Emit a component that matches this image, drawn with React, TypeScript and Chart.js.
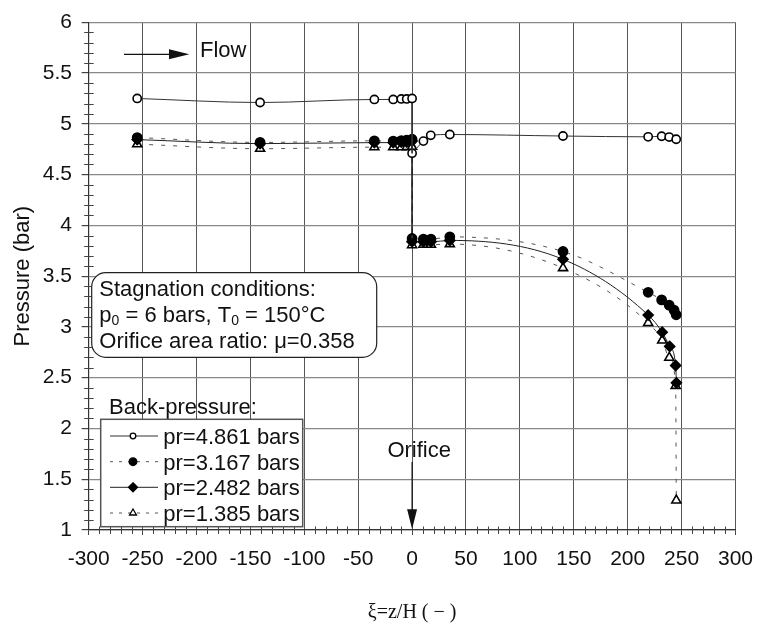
import React, { useEffect, useRef } from 'react';
import { Chart, registerables } from 'chart.js';

Chart.register(...registerables);

// ---- data ----
const xPr4861 = [-255, -141, -35, -17.5, -10, -5, 0, 0, 10.5, 17.3, 35, 140, 219, 231.5, 238.5, 245];
const yPr4861 = [5.25, 5.21, 5.24, 5.24, 5.245, 5.245, 5.25, 4.71, 4.83, 4.887, 4.895, 4.88, 4.872, 4.878, 4.87, 4.848];

const xPr3167 = [-255, -141, -35, -17.5, -10, -5, 0, 0, 10.5, 17.5, 35, 140, 219, 231.5, 238.5, 243, 245];
const yPr3167 = [4.865, 4.817, 4.833, 4.83, 4.835, 4.84, 4.848, 3.871, 3.865, 3.865, 3.887, 3.743, 3.341, 3.266, 3.214, 3.166, 3.12];

const xPr2482 = [-255, -141, -35, -17.5, -10, -5, 0, 0, 10.5, 17.5, 35, 140, 219, 232, 239, 244.5, 245.2];
const yPr2482 = [4.845, 4.805, 4.815, 4.815, 4.82, 4.82, 4.83, 3.84, 3.838, 3.838, 3.852, 3.666, 3.117, 2.948, 2.808, 2.62, 2.45];

const xPr1385 = [-255, -141, -35, -17.5, -10, -5, 0, 0, 10.5, 17.5, 35, 140, 219, 232, 238.6, 244.5, 245.1];
const yPr1385 = [4.8, 4.755, 4.77, 4.77, 4.77, 4.772, 4.775, 3.806, 3.81, 3.81, 3.816, 3.58, 3.04, 2.867, 2.698, 2.42, 1.292];

const legendLabels = ['pr=4.861 bars', 'pr=3.167 bars', 'pr=2.482 bars', 'pr=1.385 bars'];
const xTickStep = 50;
const yTickStep = 0.5;

const FONT = '"Liberation Sans", Arial, Helvetica, sans-serif';
const SERIF = '"Liberation Serif", "Times New Roman", serif';

type Style = {
  borderColor: string;
  borderDash: number[];
  pointStyle: string;
  pointRadius: number;
  fill: string;
};

const styles: Style[] = [
  { borderColor: '#333', borderDash: [], pointStyle: 'circle', pointRadius: 4.1, fill: '#fff' },
  { borderColor: '#555', borderDash: [4, 8], pointStyle: 'circle', pointRadius: 4.6, fill: '#000' },
  { borderColor: '#222', borderDash: [], pointStyle: 'rectRot', pointRadius: 5, fill: '#000' },
  { borderColor: '#555', borderDash: [4, 8], pointStyle: 'triangle', pointRadius: 5.2, fill: '#fff' },
];

function buildDatasets(xs: number[], ys: number[], st: Style) {
  const pts = xs.map((x, i) => ({ x, y: ys[i] }));
  let j = 0;
  for (let i = 0; i < xs.length - 1; i++) if (xs[i] === xs[i + 1]) { j = i; break; }
  const up = pts.slice(0, j + 1);
  const jump = pts.slice(j, j + 2);
  const down = pts.slice(j + 1);
  const common = {
    borderColor: st.borderColor,
    borderWidth: 1,
    borderDash: st.borderDash,
    pointStyle: st.pointStyle as any,
    pointBackgroundColor: st.fill,
    pointBorderColor: '#000',
    pointBorderWidth: 1.6,
    showLine: true,
    cubicInterpolationMode: 'monotone' as const,
  };
  return [
    { ...common, data: up, pointRadius: st.pointRadius },
    { ...common, data: jump, pointRadius: 0, cubicInterpolationMode: 'default' as const, tension: 0 },
    { ...common, data: down, pointRadius: st.pointRadius },
  ];
}

function drawMarker(ctx: CanvasRenderingContext2D, kind: string, x: number, y: number, r: number, fill: string) {
  ctx.save();
  ctx.setLineDash([]);
  ctx.fillStyle = fill;
  ctx.strokeStyle = '#000';
  ctx.lineWidth = 1.3;
  ctx.beginPath();
  if (kind === 'circle') {
    ctx.arc(x, y, r, 0, Math.PI * 2);
  } else if (kind === 'rectRot') {
    ctx.moveTo(x, y - r); ctx.lineTo(x + r, y); ctx.lineTo(x, y + r); ctx.lineTo(x - r, y); ctx.closePath();
  } else {
    ctx.moveTo(x, y - r); ctx.lineTo(x + r * 0.87, y + r * 0.5); ctx.lineTo(x - r * 0.87, y + r * 0.5); ctx.closePath();
  }
  ctx.fill();
  ctx.stroke();
  ctx.restore();
}

function drawSegs(ctx: CanvasRenderingContext2D, x: number, y: number, segs: [string, boolean][]) {
  for (const [t, sub] of segs) {
    ctx.font = sub ? `14px ${FONT}` : `22px ${FONT}`;
    ctx.fillText(t, x, sub ? y + 3 : y);
    x += ctx.measureText(t).width;
  }
}

const annotPlugin = {
  id: 'annot',
  afterDraw(chart: any) {
    const ctx: CanvasRenderingContext2D = chart.ctx;
    const { left, bottom } = chart.chartArea;
    const xs = chart.scales.x;
    const ys = chart.scales.y;
    ctx.save();
    // minor ticks
    ctx.strokeStyle = '#444';
    ctx.lineWidth = 1;
    for (let i = -30; i <= 30; i++) {
      if (i % 5 === 0) continue;
      const px = Math.round(xs.getPixelForValue(i * 10)) + 0.5;
      ctx.beginPath(); ctx.moveTo(px, bottom - 3.5); ctx.lineTo(px, bottom + 4); ctx.stroke();
    }
    for (let i = 10; i <= 60; i++) {
      if (i % 5 === 0) continue;
      const py = Math.round(ys.getPixelForValue(i / 10)) + 0.5;
      ctx.beginPath(); ctx.moveTo(left - 4.5, py); ctx.lineTo(left + 5, py); ctx.stroke();
    }

    ctx.fillStyle = '#111';
    ctx.strokeStyle = '#111';
    ctx.textBaseline = 'alphabetic';
    ctx.textAlign = 'left';

    // Flow arrow
    ctx.lineWidth = 1.3;
    ctx.beginPath(); ctx.moveTo(124, 54.3); ctx.lineTo(170, 54.3); ctx.stroke();
    ctx.beginPath(); ctx.moveTo(169, 49.3); ctx.lineTo(189.3, 54.3); ctx.lineTo(169, 59.3); ctx.closePath(); ctx.fill();
    ctx.font = `22px ${FONT}`;
    ctx.fillText('Flow', 200, 56.8);

    // Stagnation box
    const bx = 91.7, by = 272.7, bw = 285, bh = 84.6, r = 14;
    ctx.beginPath();
    ctx.moveTo(bx + r, by);
    ctx.lineTo(bx + bw - r, by); ctx.arcTo(bx + bw, by, bx + bw, by + r, r);
    ctx.lineTo(bx + bw, by + bh - r); ctx.arcTo(bx + bw, by + bh, bx + bw - r, by + bh, r);
    ctx.lineTo(bx + r, by + bh); ctx.arcTo(bx, by + bh, bx, by + bh - r, r);
    ctx.lineTo(bx, by + r); ctx.arcTo(bx, by, bx + r, by, r);
    ctx.closePath();
    ctx.fillStyle = '#fff';
    ctx.fill();
    ctx.lineWidth = 1.2;
    ctx.strokeStyle = '#222';
    ctx.stroke();
    ctx.fillStyle = '#111';
    drawSegs(ctx, 99.3, 296, [['Stagnation conditions:', false]]);
    drawSegs(ctx, 99.3, 322, [['p', false], ['0', true], [' = 6 bars, T', false], ['0', true], [' = 150°C', false]]);
    drawSegs(ctx, 99.3, 347.5, [['Orifice area ratio: μ=0.358', false]]);

    // Back-pressure legend
    ctx.font = `22px ${FONT}`;
    ctx.fillText('Back-pressure:', 109, 413.5);
    ctx.fillStyle = '#fff';
    ctx.fillRect(100.7, 419.3, 202, 107.4);
    ctx.strokeStyle = '#555';
    ctx.lineWidth = 1.5;
    ctx.strokeRect(100.7, 419.3, 202, 107.4);
    const baselines = [444, 469.7, 495.3, 521];
    const mr = [2.8, 3.8, 4.5, 4];
    legendLabels.forEach((lab, i) => {
      const st = styles[i];
      const ly = baselines[i] - 8;
      ctx.save();
      ctx.strokeStyle = st.borderColor;
      ctx.lineWidth = 1;
      ctx.setLineDash(st.borderDash.length ? [3, 6] : []);
      ctx.beginPath(); ctx.moveTo(110, ly); ctx.lineTo(158, ly); ctx.stroke();
      ctx.restore();
      drawMarker(ctx, st.pointStyle, 133, ly, mr[i], st.fill);
      ctx.fillStyle = '#111';
      ctx.font = `22px ${FONT}`;
      ctx.fillText(lab, 163.3, baselines[i]);
    });

    // Orifice
    ctx.fillStyle = '#111';
    ctx.strokeStyle = '#111';
    ctx.font = `22px ${FONT}`;
    ctx.textAlign = 'center';
    ctx.fillText('Orifice', 419.2, 456.5);
    const ox = xs.getPixelForValue(0);
    ctx.lineWidth = 1.2;
    ctx.beginPath(); ctx.moveTo(ox, 462); ctx.lineTo(ox, 512); ctx.stroke();
    ctx.beginPath(); ctx.moveTo(ox - 5, 509.3); ctx.lineTo(ox + 5, 509.3); ctx.lineTo(ox, 529); ctx.closePath(); ctx.fill();
    ctx.restore();
  },
};

export default function App() {
  const ref = useRef<HTMLCanvasElement>(null);
  useEffect(() => {
    document.body.style.margin = '0';
    const datasets = [
      ...buildDatasets(xPr4861, yPr4861, styles[0]),
      ...buildDatasets(xPr3167, yPr3167, styles[1]),
      ...buildDatasets(xPr2482, yPr2482, styles[2]),
      ...buildDatasets(xPr1385, yPr1385, styles[3]),
    ];
    const chart = new Chart(ref.current!, {
      type: 'scatter',
      data: { datasets: datasets as any },
      options: {
        responsive: false,
        animation: false,
        devicePixelRatio: 1,
        layout: { padding: { left: 0, top: 15.7, right: 21, bottom: 0 } },
        plugins: { legend: { display: false }, tooltip: { enabled: false } },
        scales: {
          x: {
            type: 'linear',
            min: -300,
            max: 300,
            afterFit: (s: any) => { s.height = 96; },
            ticks: {
              stepSize: xTickStep,
              font: { family: FONT, size: 21 },
              color: '#111',
              padding: 12,
              maxRotation: 0,
              callback: (v: any) => String(Number(v)),
            },
            grid: { color: '#555', lineWidth: 1, tickLength: 5, tickColor: '#444' },
            border: { color: '#333', width: 1.2 },
            title: {
              display: true,
              text: 'ξ=z/H ( − )',
              font: { family: SERIF, size: 20 },
              color: '#111',
              padding: { top: 0, bottom: 1.5 },
            },
          },
          y: {
            type: 'linear',
            min: 1,
            max: 6,
            afterFit: (s: any) => { s.width = 88.7; },
            ticks: {
              stepSize: yTickStep,
              font: { family: FONT, size: 21 },
              color: '#111',
              padding: 9.7,
              callback: (v: any) => String(Math.round(Number(v) * 10) / 10),
            },
            grid: { color: '#888', lineWidth: 1.2, tickLength: 7, tickColor: '#444' },
            border: { color: '#333', width: 1.2 },
            title: {
              display: true,
              text: 'Pressure (bar)',
              font: { family: FONT, size: 22 },
              color: '#111',
              padding: { top: 9.3, bottom: 0 },
            },
          },
        },
      },
      plugins: [annotPlugin],
    });
    return () => chart.destroy();
  }, []);
  return <canvas ref={ref} width={765} height={626} style={{ display: 'block' }} />;
}
